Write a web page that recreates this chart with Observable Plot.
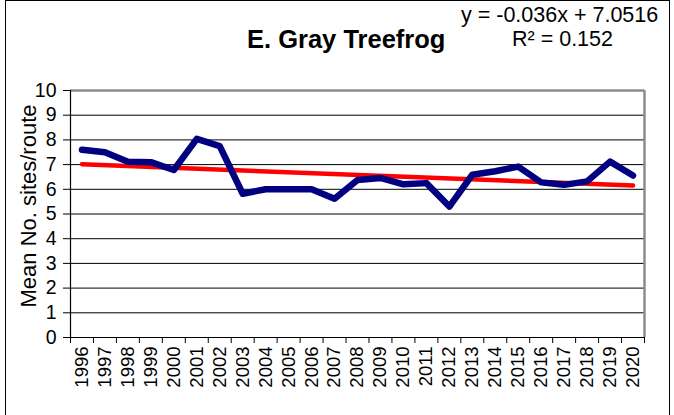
<!DOCTYPE html>
<html><head><meta charset="utf-8">
<script src="https://cdn.jsdelivr.net/npm/d3@7"></script>
<script src="https://cdn.jsdelivr.net/npm/@observablehq/plot@0.6"></script>
<style>
body{margin:0;background:#fff;width:674px;height:415px;overflow:hidden;position:relative;}
#frame{position:absolute;left:5px;top:0;width:665px;height:430px;border:1px solid #000;box-sizing:border-box;}
#chart{position:absolute;left:0;top:0;}
.t{position:absolute;font-family:"Liberation Sans",Arial,sans-serif;white-space:nowrap;color:#000;line-height:1;}
</style></head><body>
<div id="frame"></div>
<div id="chart"></div>
<div class="t" id="title" style="left:247px;top:27px;font-size:25.5px;font-weight:bold;">E. Gray Treefrog</div>
<div class="t" id="eq" style="left:461px;top:5px;font-size:21.5px;">y = -0.036x + 7.0516</div>
<div class="t" id="r2" style="left:512px;top:29px;font-size:21.5px;">R² = 0.152</div>
<script>
const years = ["1996","1997","1998","1999","2000","2001","2002","2003","2004","2005","2006","2007","2008","2009","2010","2011","2012","2013","2014","2015","2016","2017","2018","2019","2020"];
const values = [7.6,7.5,7.12,7.1,6.78,8.04,7.75,5.82,6.0,6.0,6.0,5.62,6.38,6.46,6.2,6.25,5.3,6.59,6.73,6.92,6.28,6.18,6.32,7.12,6.56];
const trendSlope = -0.036;
const trendIntercept = 7.0516;
const yTicks = [0,1,2,3,4,5,6,7,8,9,10];
const yLabel = "Mean No. sites/route";

const data = years.map((y,i)=>({x:i+1, year:y, v:values[i]}));
const trend = [1, years.length].map(x=>({x, v: trendSlope*x + trendIntercept}));
const boundaries = d3.range(0.5, years.length+1, 1);
const font = '"Liberation Sans", Arial, sans-serif';

const chart = Plot.plot({
  width: 674, height: 415,
  marginLeft: 70, marginRight: 30, marginTop: 90, marginBottom: 78,
  style: {fontFamily: font, background: "transparent", overflow: "visible"},
  x: {type: "linear", domain: [0.5, years.length + 0.5]},
  y: {domain: [0, 10]},
  marks: [
    Plot.ruleY(yTicks.filter(d=>d>0 && d<10), {stroke: "#000", strokeWidth: 1}),
    Plot.ruleY([10], {stroke: "#8c8c8c", strokeWidth: 2.5}),
    Plot.ruleX([years.length + 0.5], {stroke: "#8c8c8c", strokeWidth: 2.5}),
    Plot.ruleX([0.5], {stroke: "#000", strokeWidth: 1.2}),
    Plot.ruleY([0], {stroke: "#000", strokeWidth: 1.2}),
    Plot.axisY({ticks: yTicks, tickSize: 7, tickPadding: 7, fontSize: 19.5, label: null, stroke: "#000", strokeOpacity: 1, color: "#000"}),
    Plot.axisX({ticks: boundaries, tickSize: 6, tickFormat: () => "", label: null, stroke: "#000", strokeOpacity: 1}),
    Plot.axisX({ticks: data.map(d=>d.x), tickSize: 0, tickPadding: 9, tickRotate: -90, tickFormat: d => years[d-1], fontSize: 18.5, label: null, color: "#000"}),
    Plot.line(trend, {x: "x", y: "v", stroke: "#ff0000", strokeWidth: 4.5}),
    Plot.line(data, {x: "x", y: "v", stroke: "#000080", strokeWidth: 6.5, strokeLinejoin: "round", strokeLinecap: "round"}),
    Plot.text([yLabel], {frameAnchor: "left", dx: -42, dy: -8, rotate: -90, textAnchor: "middle", lineAnchor: "middle", fontSize: 22, text: d=>d, fill: "#000"})
  ]
});
document.getElementById("chart").appendChild(chart);
</script>
</body></html>
